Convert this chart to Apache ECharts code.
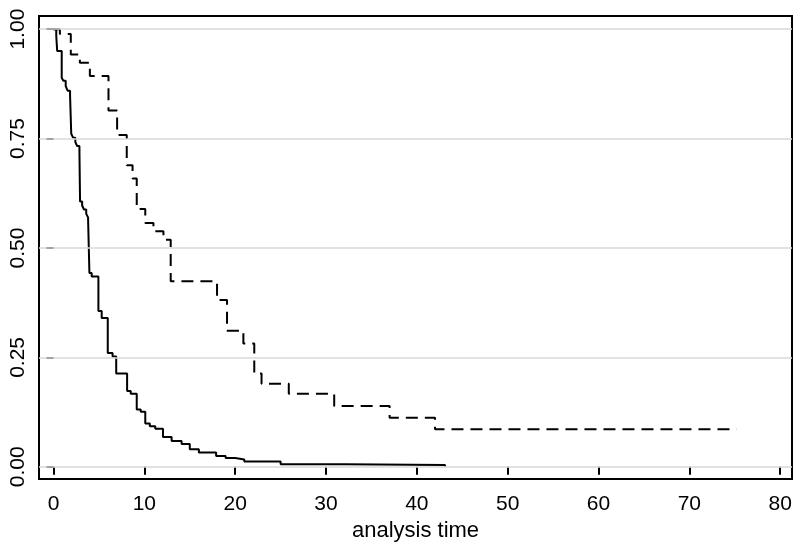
<!DOCTYPE html>
<html>
<head>
<meta charset="utf-8">
<script src="https://cdn.jsdelivr.net/npm/echarts@6/dist/echarts.min.js"></script>
<style>
html,body{margin:0;padding:0;background:#fff;}
#chart{width:800px;height:547px;}
</style>
</head>
<body>
<div id="chart"></div>
<script>
// Kaplan-Meier step points: [analysis time, survival]
const groupSolid = [
  [0, 1.0], [0.3, 0.985], [0.4, 0.95], [0.9, 0.889], [1.08, 0.882], [1.34, 0.870],
  [1.56, 0.859], [1.82, 0.848], [1.95, 0.761], [2.15, 0.752], [2.4, 0.742],
  [2.6, 0.733], [2.85, 0.723], [2.92, 0.606], [3.15, 0.597], [3.35, 0.588],
  [3.6, 0.578], [3.8, 0.570], [3.95, 0.443], [4.2, 0.435], [4.94, 0.356],
  [5.3, 0.340], [5.97, 0.260], [6.5, 0.252], [6.9, 0.213], [8.1, 0.173],
  [8.5, 0.167], [9.16, 0.131], [9.6, 0.126], [10.1, 0.099], [10.6, 0.093],
  [11.2, 0.087], [12.05, 0.068], [13.0, 0.059], [14.1, 0.052], [15.0, 0.040],
  [16.0, 0.033], [17.9, 0.025], [18.95, 0.020], [20.0, 0.017], [21.0, 0.012],
  [25.0, 0.006], [32.1, 0.004], [43.1, 0.0]
];
const groupDashed = [
  [0, 1.0], [0.7, 0.989], [1.9, 0.942], [2.9, 0.923], [4.0, 0.893], [6.05, 0.814],
  [7.0, 0.758], [8.06, 0.689], [8.7, 0.659], [9.16, 0.589], [10.1, 0.557],
  [11.0, 0.538], [12.1, 0.519], [12.9, 0.424], [18.0, 0.381], [19.1, 0.311],
  [20.9, 0.282], [22.1, 0.213], [22.9, 0.190], [25.9, 0.167], [30.9, 0.139],
  [37.0, 0.112], [42.0, 0.086], [75.2, 0.086]
];
const xTicks = [0, 10, 20, 30, 40, 50, 60, 70, 80];
const yTicks = [0, 0.25, 0.5, 0.75, 1.0];
const xTitle = 'analysis time';

const chart = echarts.init(document.getElementById('chart'), null, {renderer: 'canvas'});
const font = 'Liberation Sans, Arial, sans-serif';
chart.setOption({
  animation: false,
  backgroundColor: '#fff',
  grid: {left: 39, right: 8, top: 16, bottom: 64, show: true, borderColor: '#000', borderWidth: 2, backgroundColor: '#fff'},
  xAxis: {
    type: 'value', min: -1.6, max: 81.3,
    name: xTitle, nameLocation: 'middle', nameGap: 35,
    nameTextStyle: {fontFamily: font, fontSize: 22, color: '#000'},
    axisLine: {show: false},
    axisTick: {show: true, customValues: xTicks, length: 8, lineStyle: {color: '#000', width: 2}},
    axisLabel: {customValues: xTicks, fontFamily: font, fontSize: 21, color: '#000', margin: 15},
    splitLine: {show: false}
  },
  yAxis: {
    type: 'value', min: -0.028, max: 1.03,
    axisLine: {show: false},
    axisTick: {show: true, customValues: yTicks, length: 7, lineStyle: {color: '#000', width: 2}},
    axisLabel: {customValues: yTicks, rotate: 90, fontFamily: font, fontSize: 21, color: '#000', margin: 10,
      formatter: v => Number(v).toFixed(2)},
    splitLine: {show: false}
  },
  series: [
    {
      type: 'line', data: [], z: 1, silent: true,
      markLine: {
        silent: true, symbol: ['none', 'none'], label: {show: false},
        lineStyle: {color: '#d9d9d9', type: 'solid', width: 1.5},
        emphasis: {disabled: true},
        data: yTicks.map(v => ({yAxis: v}))
      }
    },
    {
      type: 'line', data: groupSolid, step: 'end', showSymbol: false, z: 3,
      lineStyle: {color: '#000', width: 2}
    },
    {
      type: 'line', data: groupDashed, step: 'end', showSymbol: false, z: 3,
      lineStyle: {color: '#000', width: 2, type: [12, 7]}
    }
  ]
});
</script>
</body>
</html>
